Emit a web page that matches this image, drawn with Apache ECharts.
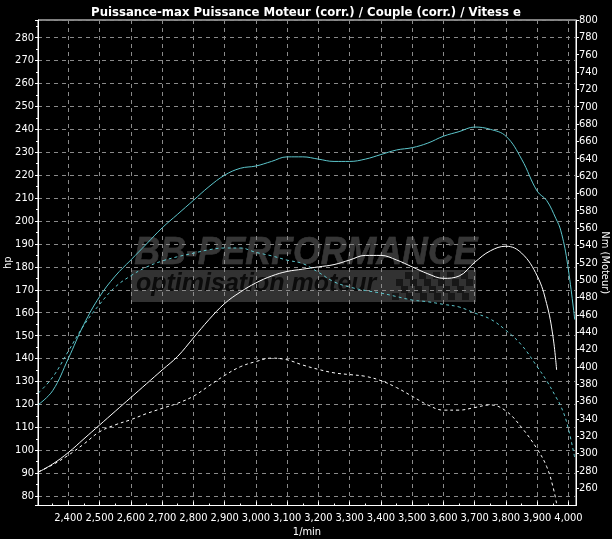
<!DOCTYPE html>
<html><head><meta charset="utf-8">
<script src="https://cdn.jsdelivr.net/npm/echarts@6/dist/echarts.min.js"></script>
<style>html,body{margin:0;padding:0;background:#000;}#c{width:612px;height:539px;}</style>
</head><body><div id="c"></div>
<script>
const rpmCyan = [2305,2350,2400,2450,2500,2550,2600,2650,2700,2750,2800,2850,2900,2950,3000,3050,3100,3150,3200,3250,3300,3350,3400,3450,3500,3550,3600,3650,3700,3750,3800,3850,3900,3930,3960,3975,3995,4020];
const powerCyan = [120,126,140,155,167,176,183,190,197,203,209,215,220,223,224,226,228,228,227,226,226,227,229,231,232,234,237,239,241,240,237,227,213,209,201,196,183,157];
const torqueCyan = [370,388,418,448,472,492,505,515,522,527,531,535,537,537,532,528,523,519,509,498,492,488,485,481,477,475,472,469,462,455,442,425,400,384,365,355,335,295];
const rpmWhite = [2305,2350,2400,2450,2500,2550,2600,2650,2700,2750,2800,2850,2900,2950,3000,3050,3100,3150,3200,3250,3300,3350,3400,3450,3500,3550,3600,3650,3700,3750,3800,3850,3900,3930,3950,3962];
const powerWhite = [90.5,94,99,105,111,117,123,129,135,141,149,157,164,169,173,176,178,179,180,181,183,185,185,183,180,177,175,176,182,187,189,186,176,164,150,135];
const torqueWhite = [279,287,298,311,325,333,339,346,352,358,366,378,390,400,406,410,408,402,397,393,391,389,384,376,366,356,350,350,353,356,349,330,305,285,262,242];

const titleText = 'Puissance-max Puissance Moteur (corr.) / Couple (corr.) / Vitess e';
const FONT = '"Liberation Sans Narrow", "DejaVu Sans Condensed", "Liberation Sans", sans-serif';
const CYAN = '#5cc6cc';
const GRIDC = '#8a8a8a';

function pairs(xs, ys){ return xs.map((x,i)=>[x, ys[i]]); }

const chart = echarts.init(document.getElementById('c'), null, {renderer:'canvas'});

const checker = [];
for (let r=0;r<4;r++){
  for (let c=0;c<11;c++){
    if ((r+c)%2===0) continue;
    checker.push({type:'rect', shape:{x:398+c*7 - r*2, y:272+r*7, width:7, height:7}, style:{fill:'#171717'}, z:-5, silent:true});
  }
}

chart.setOption({
  backgroundColor:'#000',
  animation:false,
  title:{text:titleText, left:'center', top:1, textStyle:{color:'#fff', fontSize:13, fontWeight:'bold', fontFamily:FONT}},
  grid:{left:38, right:36, top:20, bottom:33.5, outerBoundsMode:'none', containLabel:false, show:true, borderColor:'#fff', borderWidth:1, backgroundColor:'transparent'},
  graphic:[
    {type:'text', left:134, top:234, z:-5, silent:true, scaleX:0.94,
      style:{text:'BB-PERFORMANCE', fill:'#363636', stroke:'#444', lineWidth:0.5, font:'italic 900 38px "Liberation Sans", "DejaVu Sans", sans-serif'}},
    {type:'rect', shape:{x:131, y:270, width:345, height:32}, style:{fill:'#323232'}, z:-6, silent:true},
    {type:'text', left:136, top:272, z:-5, silent:true,
      style:{text:'optimisation moteur', fill:'#0b0b0b', font:'italic bold 25px "Liberation Sans", "DejaVu Sans", sans-serif'}}
  ].concat(checker),
  xAxis:{type:'value', min:2303, max:4024, splitNumber:17, minInterval:100, maxInterval:100,
    name:'1/min', nameLocation:'middle', nameGap:21, nameMoveOverlap:false, nameTextStyle:{color:'#fff', fontSize:11, fontFamily:FONT},
    axisLine:{show:true, lineStyle:{color:'#fff', width:1}},
    axisTick:{show:true, inside:true, length:4, lineStyle:{color:'#fff'}},
    minorTick:{show:true, splitNumber:2, length:2, lineStyle:{color:'#fff'}},
    axisLabel:{color:'#fff', fontSize:11, fontFamily:FONT, margin:7, showMinLabel:false, showMaxLabel:false,
      formatter:v=>{ if (v%100!==0) return ''; return Math.floor(v/1000)+','+String(v%1000).padStart(3,'0'); }},
    splitLine:{show:true, lineStyle:{color:GRIDC, type:[4,4], width:1}}
  },
  yAxis:[
    {type:'value', min:75.9, max:287.7, splitNumber:21, minInterval:10, maxInterval:10, position:'left',
      name:'hp', nameLocation:'middle', nameGap:24, nameMoveOverlap:false, nameTextStyle:{color:'#fff', fontSize:11, fontFamily:FONT},
      axisLine:{show:true, lineStyle:{color:'#fff'}},
      axisTick:{show:true, length:3, lineStyle:{color:'#fff'}},
      minorTick:{show:true, splitNumber:2, length:2, lineStyle:{color:'#fff'}},
      axisLabel:{color:'#fff', fontSize:11, fontFamily:FONT, margin:4, showMinLabel:false, showMaxLabel:false,
        formatter:v=> (Math.abs(v%10)<1e-6 ? String(v) : '')},
      splitLine:{show:true, lineStyle:{color:GRIDC, type:[4,4], width:1}}
    },
    {type:'value', min:240, max:800, interval:20, position:'right',
      name:'Nm (Moteur)', nameLocation:'middle', nameGap:23, nameRotate:-90, nameMoveOverlap:false, nameTextStyle:{color:'#fff', fontSize:11, fontFamily:FONT},
      axisLine:{show:true, lineStyle:{color:'#fff'}},
      axisTick:{show:true, length:3, lineStyle:{color:'#fff'}},
      axisLabel:{color:'#fff', fontSize:11, fontFamily:FONT, margin:3, showMinLabel:false},
      splitLine:{show:false}
    }
  ],
  series:[
    {name:'Puissance', type:'line', yAxisIndex:0, data:pairs(rpmCyan, powerCyan), smooth:0.4, symbol:'none', lineStyle:{color:CYAN, width:1}, z:3},
    {name:'Couple', type:'line', yAxisIndex:1, data:pairs(rpmCyan, torqueCyan), smooth:0.4, symbol:'none', lineStyle:{color:CYAN, width:1, type:[3,3]}, z:3},
    {name:'Puissance origine', type:'line', yAxisIndex:0, data:pairs(rpmWhite, powerWhite), smooth:0.4, symbol:'none', lineStyle:{color:'#fff', width:1}, z:4},
    {name:'Couple origine', type:'line', yAxisIndex:1, data:pairs(rpmWhite, torqueWhite), smooth:0.4, symbol:'none', lineStyle:{color:'#fff', width:1, type:[3,3]}, z:4}
  ]
});
</script></body></html>
